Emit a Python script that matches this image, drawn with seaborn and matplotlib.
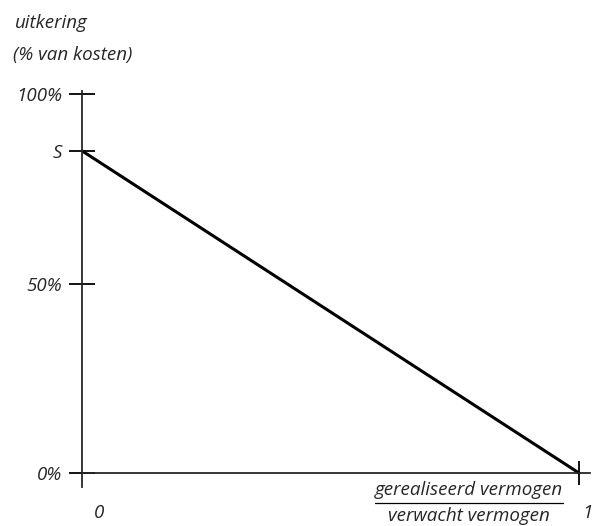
import matplotlib
matplotlib.use("Agg")
import matplotlib.pyplot as plt
import seaborn as sns
import pandas as pd
from matplotlib.lines import Line2D

# data
ratio = [0, 1]
uitkering = [85, 0]
ytick_vals = [0, 50, 85, 100]
ytick_labels = ["0%", "50%", "S", "100%"]
xtick_vals = [0, 1]
xtick_labels = ["0", "1"]

sns.set_style("white")
plt.rcParams["font.family"] = ["Open Sans", "DejaVu Sans"]
plt.rcParams["font.style"] = "italic"
fs = 13.5

fig = plt.figure(figsize=(5.93, 5.26), dpi=100)
ax = fig.add_axes([0.1383, 0.0741, 0.8566, 0.7529])

df = pd.DataFrame({"ratio": ratio, "uitkering": uitkering})
sns.lineplot(data=df, x="ratio", y="uitkering", color="black", lw=2.2, ax=ax)

ax.set_xlim(0, 1.022)
ax.set_ylim(-3.69, 100.79)

for s in ["top", "right"]:
    ax.spines[s].set_visible(False)
ax.spines["left"].set_linewidth(1.3)
ax.spines["bottom"].set_linewidth(1.3)
ax.spines["bottom"].set_position(("data", 0))

ax.set_yticks(ytick_vals)
ax.set_yticklabels(ytick_labels, fontsize=fs, style="italic")
ax.tick_params(axis="y", left=True, direction="inout", length=18.7, width=1.3, pad=5, color="black")

ax.set_xticks(xtick_vals)
ax.set_xticklabels(["", ""])
ax.tick_params(axis="x", bottom=True, direction="inout", length=17.3, width=1.3, color="black")
# hide tick at 0 (y axis already covers it)
ax.xaxis.get_major_ticks()[0].tick1line.set_visible(False)

# x tick labels placed under the axis
ax.annotate(xtick_labels[0], xy=(xtick_vals[0], 0), xytext=(17, -40), textcoords="offset pixels",
            ha="center", va="center", fontsize=fs, style="italic")
ax.annotate(xtick_labels[1], xy=(xtick_vals[1], 0), xytext=(8, -40), textcoords="offset pixels",
            ha="center", va="center", fontsize=fs, style="italic")

ax.set_xlabel("")
ax.set_ylabel("")

# y label
fig.text(15 / 593, 1 - 23 / 526, "uitkering", ha="left", va="center", fontsize=fs, style="italic")
fig.text(13 / 593, 1 - 55 / 526, "(% van kosten)", ha="left", va="center", fontsize=fs, style="italic")

# x label as a fraction
fig.text(469 / 593, 1 - 490 / 526, "gerealiseerd vermogen", ha="center", va="center", fontsize=fs, style="italic")
fig.add_artist(Line2D([375 / 593, 563 / 593], [1 - 503 / 526, 1 - 503 / 526], color="black", lw=0.9))
fig.text(469 / 593, 1 - 516 / 526, "verwacht vermogen", ha="center", va="center", fontsize=fs, style="italic")

fig.savefig("out.png", dpi=100)
